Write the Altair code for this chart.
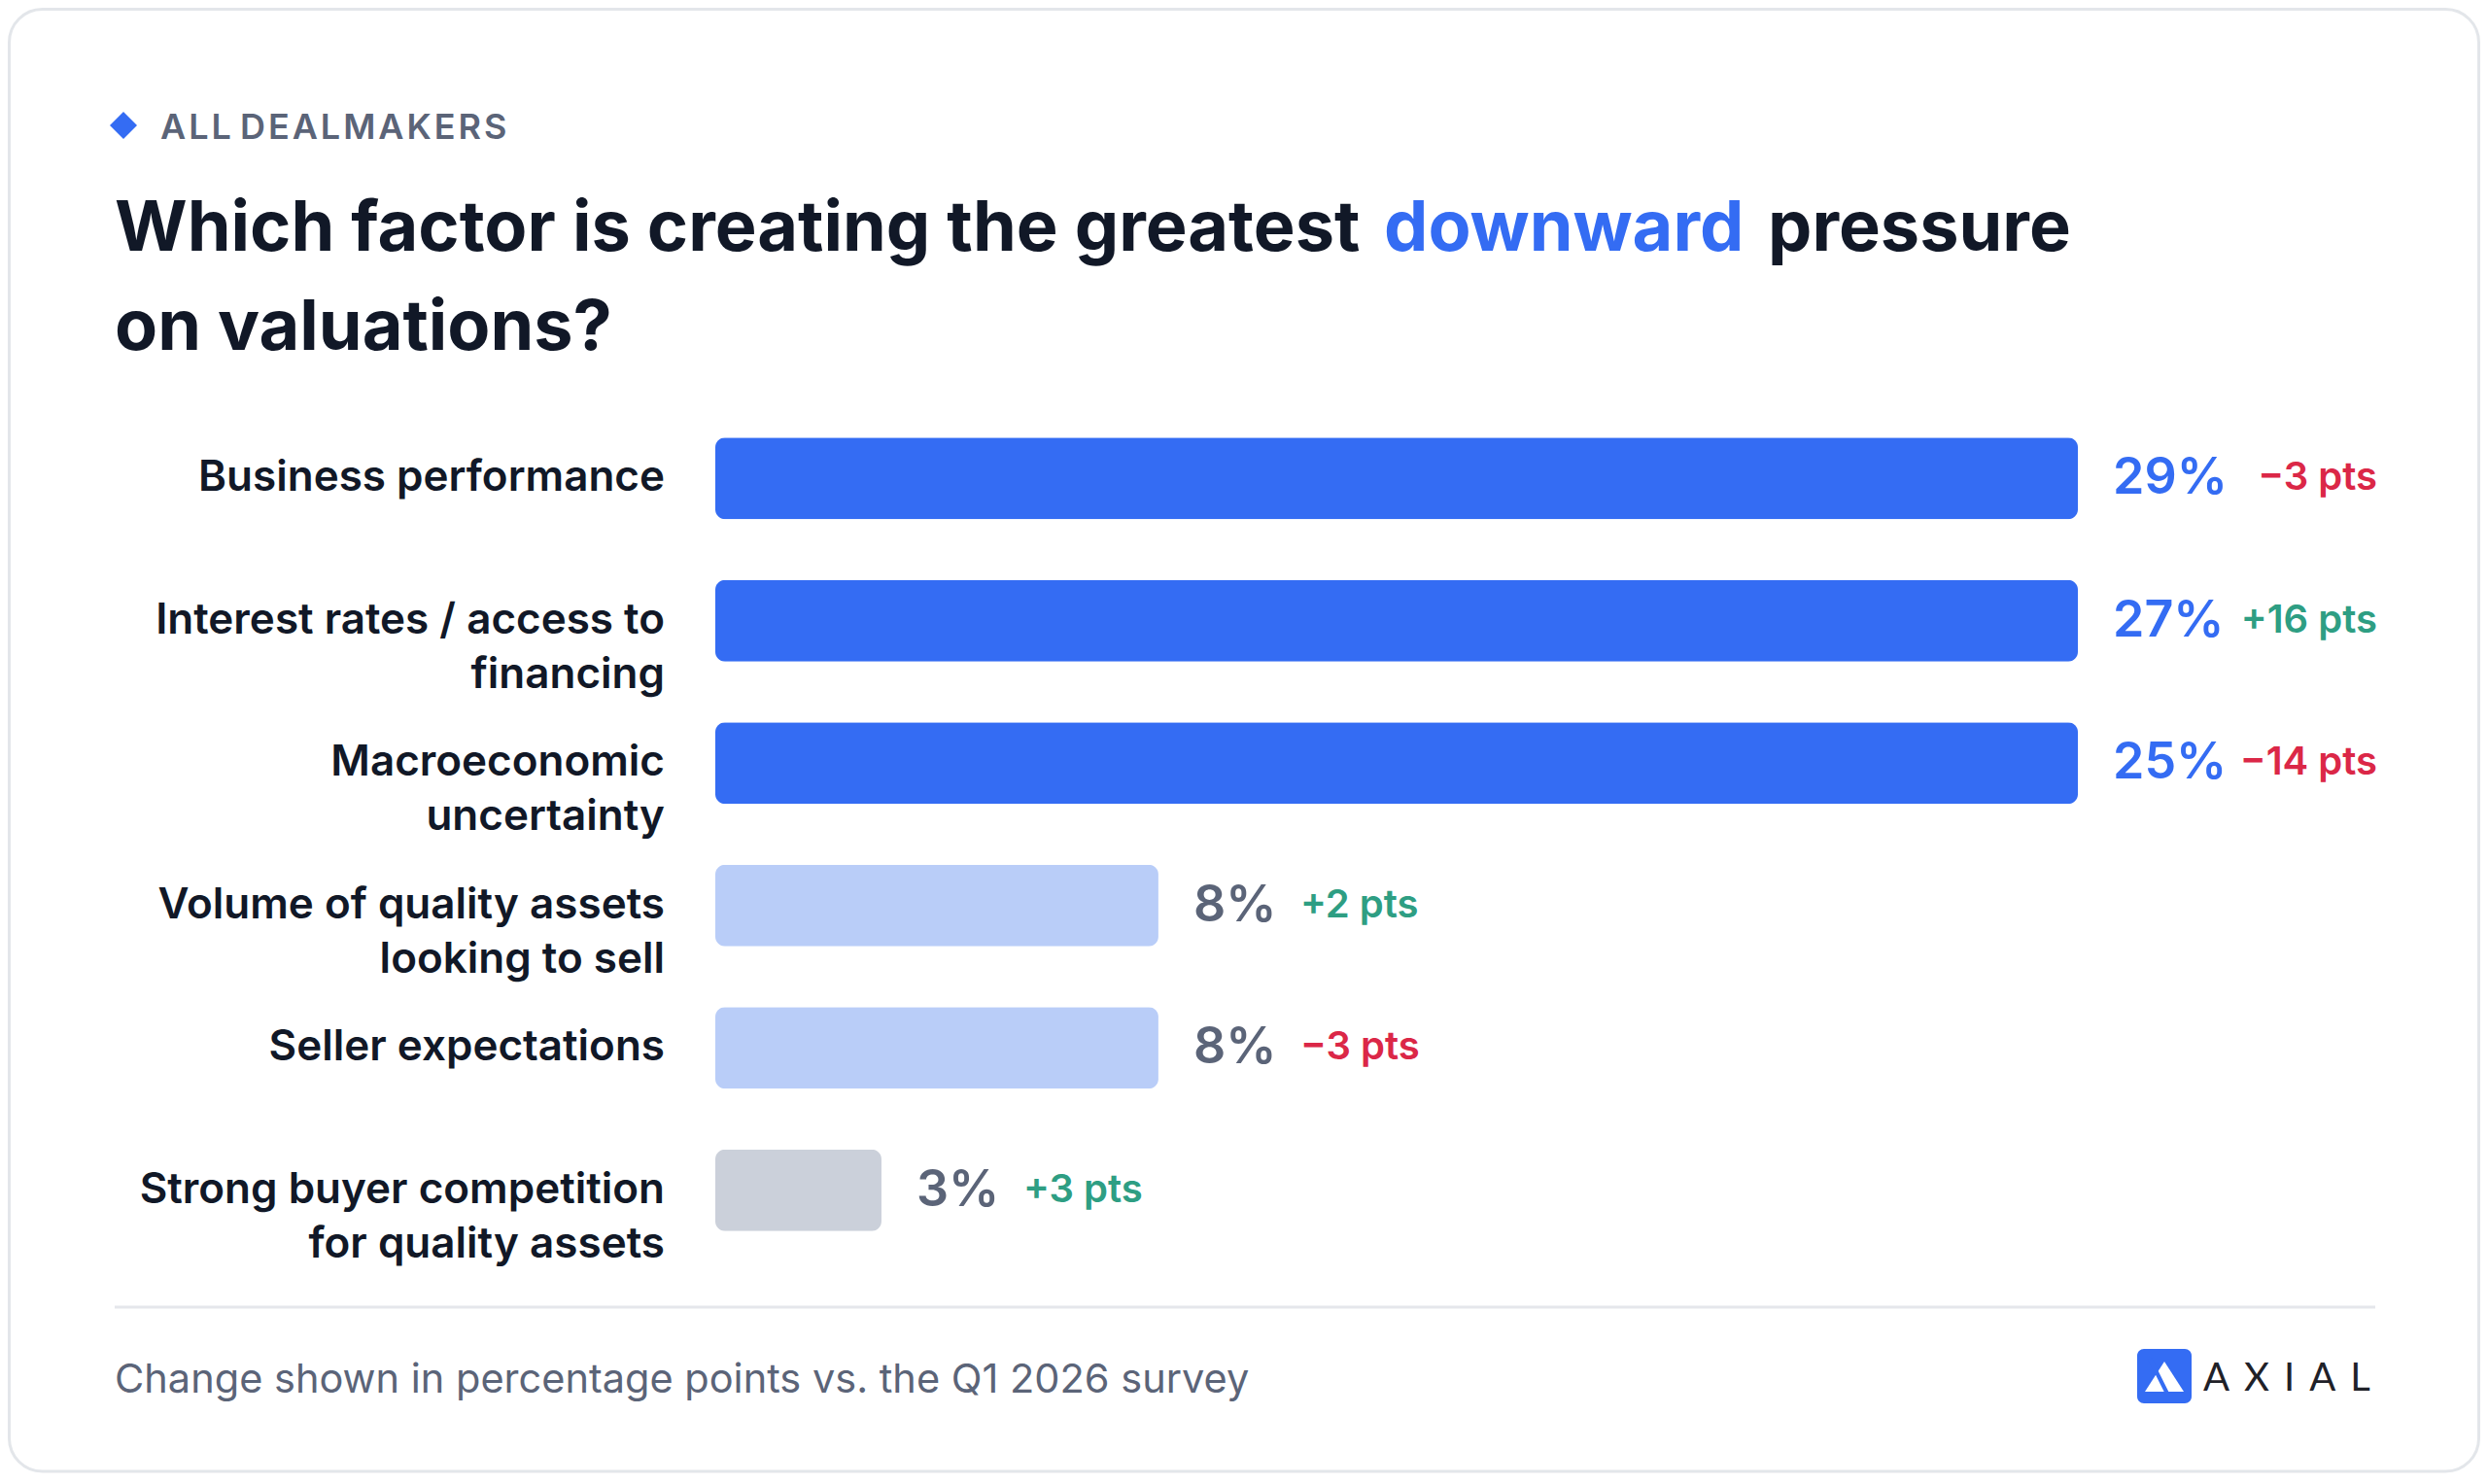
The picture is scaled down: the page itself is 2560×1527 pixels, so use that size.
import altair as alt
import pandas as pd

# survey rows, top to bottom
factors = [
    "Business performance",
    "Interest rates / access to\nfinancing",
    "Macroeconomic\nuncertainty",
    "Volume of quality assets\nlooking to sell",
    "Seller expectations",
    "Strong buyer competition\nfor quality assets",
]
share_pct = [29, 27, 25, 8, 8, 3]
change_pts = [-3, 16, -14, 2, -3, 3]

BLUE = "#346cf3"
LIGHT_BLUE = "#b9cdf8"
GRAY_BAR = "#cbd0da"
SLATE = "#5b6478"
INK = "#111827"
RED = "#db2747"
GREEN = "#2e9e83"
FONT = "Inter"

W, H = 2544, 1508
X_CAP = 24.6  # long bars stop where the labels begin

df = pd.DataFrame({"factor": factors, "share": share_pct, "change": change_pts})
one = pd.DataFrame({"k": [0]})

x_scale = alt.Scale(domain=[0, X_CAP], range=[728, 2130], clamp=True)
y_scale = alt.Scale(domain=factors, range=[411, 1290], paddingInner=0.426, paddingOuter=0.213)

base = alt.Chart(df).transform_calculate(
    tier="datum.share >= 20 ? 'lead' : datum.share >= 5 ? 'mid' : 'low'",
    pct_label="datum.share + '%'",
    chg_label="(datum.change > 0 ? '+' : '\u2212') + abs(datum.change) + ' pts'",
    chg_dir="datum.change > 0 ? 'up' : 'down'",
)

x_enc = alt.X("share:Q", scale=x_scale, axis=None)
y_enc = alt.Y("factor:N", scale=y_scale, axis=None, sort=factors)
chg_color = alt.Color("chg_dir:N", scale=alt.Scale(domain=["up", "down"], range=[GREEN, RED]), legend=None)

bars = base.mark_bar(cornerRadius=10).encode(
    x=x_enc,
    y=y_enc,
    color=alt.Color("tier:N", scale=alt.Scale(domain=["lead", "mid", "low"], range=[BLUE, LIGHT_BLUE, GRAY_BAR]), legend=None),
)

cat_labels = base.mark_text(
    align="right", baseline="middle", font=FONT, fontSize=44, fontWeight=600,
    color=INK, lineBreak="\n", lineHeight=56,
).encode(x=alt.value(676), y=y_enc, text="factor:N")

pct_labels = base.mark_text(
    align="left", baseline="middle", dx=36, font=FONT, fontSize=52, fontWeight=600,
).encode(
    x=x_enc,
    y=y_enc,
    text="pct_label:N",
    color=alt.Color("tier:N", scale=alt.Scale(domain=["lead", "mid", "low"], range=[BLUE, SLATE, SLATE]), legend=None),
)

# deltas: pinned to the right edge for capped bars, trailing the value otherwise
chg_right = base.transform_filter(f"datum.share >= {X_CAP}").mark_text(
    align="right", baseline="middle", font=FONT, fontSize=40, fontWeight=600,
).encode(x=alt.value(2438), y=y_enc, text="chg_label:N", color=chg_color)

chg_trail = base.transform_filter(f"datum.share < {X_CAP}").mark_text(
    align="left", baseline="middle", dx=146, font=FONT, fontSize=40, fontWeight=600,
).encode(x=x_enc, y=y_enc, text="chg_label:N", color=chg_color)


def note(text, x, y, font=FONT, **style):
    return alt.Chart(one).mark_text(text=text, align="left", baseline="alphabetic", font=font, **style).encode(
        x=alt.value(x), y=alt.value(y)
    )


card = alt.Chart(one).mark_rect(fill="white", stroke="#e3e6ea", strokeWidth=3, cornerRadius=34).encode(
    x=alt.value(1.5), x2=alt.value(W - 1.5), y=alt.value(1.5), y2=alt.value(H - 2)
)
diamond = alt.Chart(one).mark_point(shape="diamond", filled=True, size=784, color=BLUE, opacity=1).encode(
    x=alt.value(119), y=alt.value(121)
)
kicker = note("A\u200aL\u200aL D\u200aE\u200aA\u200aL\u200aM\u200aA\u200aK\u200aE\u200aR\u200aS", 157, 135,
              fontSize=36, fontWeight=600, color=SLATE)
title_a = note("Which factor is creating the greatest", 110, 250, fontSize=72, fontWeight=700, color=INK)
title_b = note("downward", 1416, 250, fontSize=72, fontWeight=700, color=BLUE)
title_c = note("pressure", 1811, 250, fontSize=72, fontWeight=700, color=INK)
title_d = note("on valuations?", 110, 352, fontSize=72, fontWeight=700, color=INK)

divider = alt.Chart(one).mark_rule(color="#e5e7eb", strokeWidth=3).encode(
    x=alt.value(110), x2=alt.value(2436), y=alt.value(1337)
)
footnote = note("Change shown in percentage points vs. the Q1 2026 survey", 110, 1425,
                fontSize=41.5, fontWeight=400, color=SLATE)

logo_box = alt.Chart(one).mark_rect(color=BLUE, cornerRadius=7).encode(
    x=alt.value(2191), x2=alt.value(2247), y=alt.value(1380), y2=alt.value(1436)
)
logo_glyph = alt.Chart(one).mark_point(
    shape="M -1 0.75 L 0 -0.8 L 1 0.75 Z", filled=True, size=1600, color="white", opacity=1
).encode(x=alt.value(2219), y=alt.value(1409))
logo_cut = alt.Chart(one).mark_rule(color=BLUE, strokeWidth=4).encode(
    x=alt.value(2204), x2=alt.value(2222), y=alt.value(1390), y2=alt.value(1426)
)
gap = "\u2009" * 3
wordmark = note(gap.join("AXIAL"), 2259, 1423, font="Lato",
                fontSize=40, fontWeight=400, color="#1f2128")

chart = alt.layer(
    card, diamond, kicker, title_a, title_b, title_c, title_d,
    bars, cat_labels, pct_labels, chg_right, chg_trail,
    divider, footnote, logo_box, logo_glyph, logo_cut, wordmark,
).resolve_scale(color="independent").properties(
    width=W, height=H, padding=0, background="white"
).configure_view(stroke=None)

chart.save("out.html", embed_options={"renderer": "svg", "actions": False})
